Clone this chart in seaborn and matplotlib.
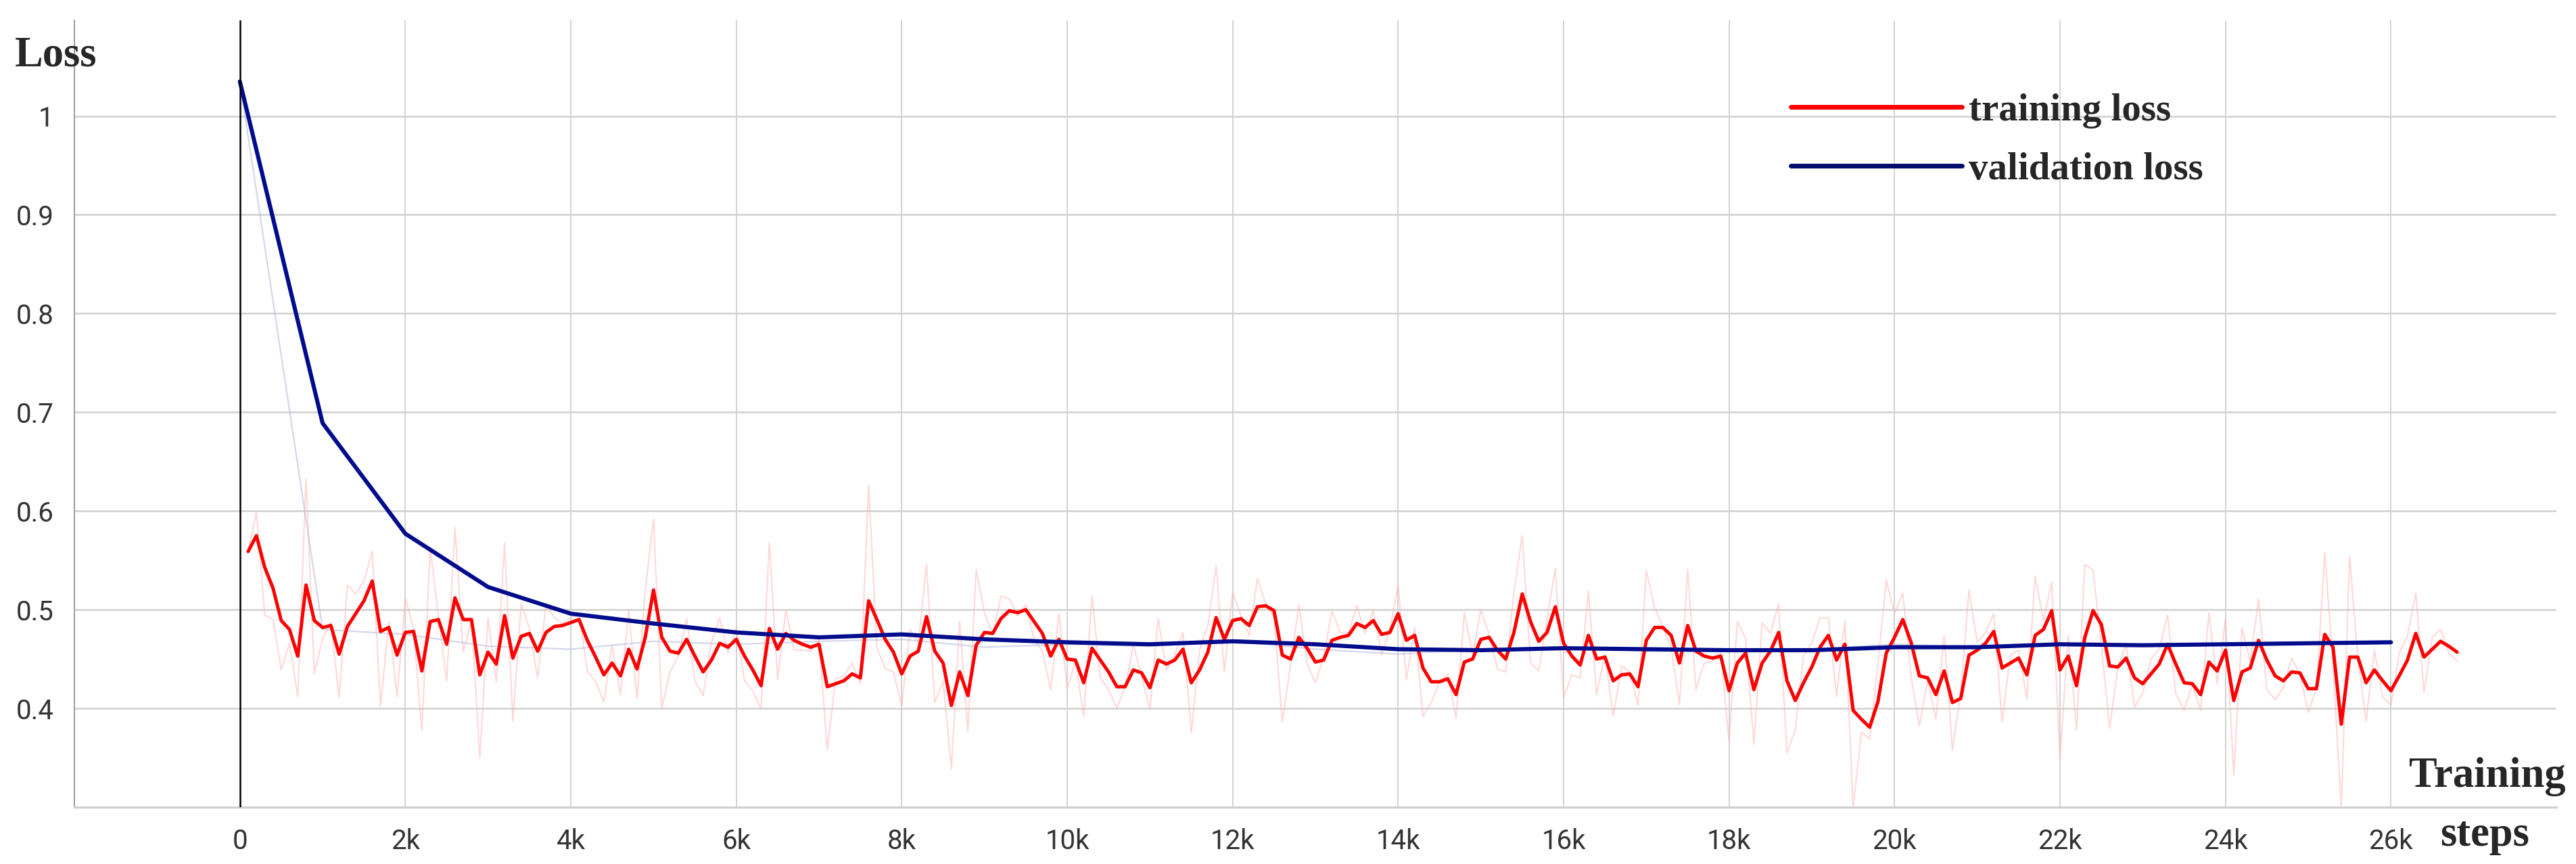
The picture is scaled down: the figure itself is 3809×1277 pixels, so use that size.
import numpy as np
import pandas as pd
import matplotlib
matplotlib.use("Agg")
import matplotlib.pyplot as plt
import seaborn as sns
from matplotlib.lines import Line2D

# ---------------- data ----------------
train_steps = list(range(100, 26801, 100))

train_smoothed = [
    0.559, 0.575, 0.543, 0.522, 0.489, 0.480, 0.453, 0.525, 0.489, 0.482,
    0.484, 0.455, 0.483, 0.496, 0.509, 0.529, 0.478, 0.482, 0.454, 0.477,
    0.478, 0.438, 0.488, 0.490, 0.465, 0.512, 0.490, 0.490, 0.434, 0.457,
    0.445, 0.494, 0.451, 0.473, 0.476, 0.458, 0.477, 0.483, 0.484, 0.487,
    0.490, 0.469, 0.452, 0.434, 0.446, 0.433, 0.460, 0.440, 0.472, 0.520,
    0.472, 0.458, 0.456, 0.470, 0.453, 0.437, 0.449, 0.466, 0.462, 0.470,
    0.453, 0.439, 0.423, 0.481, 0.460, 0.476, 0.469, 0.465, 0.462, 0.465,
    0.422, 0.425, 0.428, 0.435, 0.431, 0.509, 0.490, 0.470, 0.457, 0.435,
    0.453, 0.458, 0.493, 0.458, 0.446, 0.403, 0.437, 0.413, 0.464, 0.477,
    0.476, 0.491, 0.499, 0.497, 0.500, 0.488, 0.476, 0.453, 0.470, 0.450,
    0.449, 0.426, 0.461, 0.449, 0.437, 0.422, 0.422, 0.439, 0.436, 0.421,
    0.449, 0.445, 0.449, 0.460, 0.426, 0.439, 0.457, 0.492, 0.470, 0.489,
    0.491, 0.484, 0.503, 0.504, 0.499, 0.454, 0.450, 0.472, 0.461, 0.447,
    0.449, 0.469, 0.472, 0.474, 0.486, 0.482, 0.489, 0.475, 0.477, 0.496,
    0.469, 0.474, 0.441, 0.427, 0.427, 0.430, 0.414, 0.447, 0.450, 0.470,
    0.472, 0.459, 0.450, 0.477, 0.516, 0.488, 0.468, 0.477, 0.503, 0.466,
    0.453, 0.444, 0.474, 0.450, 0.452, 0.428, 0.434, 0.435, 0.422, 0.469,
    0.482, 0.482, 0.474, 0.446, 0.484, 0.458, 0.453, 0.451, 0.453, 0.418,
    0.446, 0.456, 0.419, 0.446, 0.458, 0.477, 0.428, 0.408, 0.426, 0.442,
    0.462, 0.474, 0.449, 0.465, 0.398, 0.389, 0.381, 0.407, 0.456, 0.472,
    0.490, 0.467, 0.433, 0.431, 0.414, 0.438, 0.406, 0.410, 0.454, 0.459,
    0.466, 0.478, 0.441, 0.446, 0.451, 0.434, 0.474, 0.480, 0.499, 0.439,
    0.453, 0.423, 0.472, 0.499, 0.485, 0.443, 0.442, 0.451, 0.431, 0.425,
    0.435, 0.445, 0.465, 0.445, 0.426, 0.425, 0.414, 0.447, 0.438, 0.459,
    0.408, 0.437, 0.441, 0.469, 0.449, 0.433, 0.428, 0.437, 0.436, 0.420,
    0.420, 0.475, 0.462, 0.384, 0.452, 0.452, 0.426, 0.439, 0.428, 0.418,
    0.433, 0.449, 0.476, 0.452, 0.460, 0.468, 0.463, 0.457,
]

train_raw = [
    0.559, 0.599, 0.495, 0.490, 0.439, 0.466, 0.412, 0.633, 0.435, 0.471,
    0.487, 0.411, 0.525, 0.516, 0.529, 0.559, 0.402, 0.488, 0.412, 0.512,
    0.480, 0.378, 0.563, 0.493, 0.428, 0.583, 0.457, 0.490, 0.350, 0.492,
    0.427, 0.568, 0.387, 0.506, 0.481, 0.431, 0.506, 0.492, 0.486, 0.492,
    0.495, 0.438, 0.427, 0.407, 0.464, 0.414, 0.500, 0.410, 0.520, 0.592,
    0.400, 0.437, 0.453, 0.491, 0.428, 0.413, 0.467, 0.492, 0.456, 0.482,
    0.428, 0.418, 0.399, 0.568, 0.429, 0.500, 0.459, 0.459, 0.458, 0.470,
    0.358, 0.430, 0.433, 0.446, 0.425, 0.626, 0.462, 0.440, 0.437, 0.402,
    0.480, 0.466, 0.546, 0.406, 0.428, 0.339, 0.488, 0.377, 0.541, 0.497,
    0.475, 0.514, 0.511, 0.494, 0.505, 0.470, 0.458, 0.419, 0.496, 0.420,
    0.448, 0.392, 0.514, 0.431, 0.419, 0.400, 0.422, 0.465, 0.432, 0.399,
    0.491, 0.439, 0.455, 0.477, 0.375, 0.459, 0.484, 0.545, 0.437, 0.518,
    0.494, 0.474, 0.532, 0.506, 0.492, 0.386, 0.444, 0.505, 0.445, 0.426,
    0.452, 0.499, 0.477, 0.477, 0.504, 0.476, 0.500, 0.454, 0.480, 0.525,
    0.429, 0.482, 0.392, 0.406, 0.427, 0.435, 0.390, 0.497, 0.455, 0.500,
    0.475, 0.440, 0.437, 0.518, 0.575, 0.446, 0.438, 0.491, 0.542, 0.411,
    0.434, 0.431, 0.519, 0.414, 0.455, 0.392, 0.443, 0.437, 0.403, 0.540,
    0.502, 0.482, 0.462, 0.404, 0.541, 0.419, 0.446, 0.448, 0.456, 0.366,
    0.488, 0.471, 0.364, 0.487, 0.476, 0.506, 0.355, 0.378, 0.453, 0.466,
    0.492, 0.492, 0.412, 0.489, 0.300, 0.376, 0.369, 0.446, 0.530, 0.496,
    0.517, 0.433, 0.382, 0.428, 0.389, 0.474, 0.358, 0.416, 0.520, 0.467,
    0.477, 0.496, 0.386, 0.454, 0.459, 0.409, 0.534, 0.489, 0.528, 0.349,
    0.474, 0.378, 0.546, 0.540, 0.464, 0.380, 0.441, 0.465, 0.401, 0.416,
    0.450, 0.460, 0.495, 0.415, 0.398, 0.424, 0.398, 0.497, 0.425, 0.491,
    0.332, 0.481, 0.447, 0.511, 0.419, 0.409, 0.421, 0.451, 0.435, 0.396,
    0.420, 0.558, 0.443, 0.300, 0.554, 0.452, 0.387, 0.459, 0.412, 0.403,
    0.456, 0.473, 0.517, 0.416, 0.472, 0.480, 0.456, 0.448,
]

val_steps = list(range(0, 26001, 1000))
val_smoothed = [1.035, 0.689, 0.577, 0.523, 0.496, 0.486, 0.477, 0.472, 0.475,
                0.470, 0.467, 0.465, 0.468, 0.465, 0.460, 0.459, 0.461, 0.460,
                0.459, 0.459, 0.462, 0.462, 0.465, 0.464, 0.465, 0.466, 0.467]
val_raw = [1.035, 0.480, 0.475, 0.463, 0.460, 0.468, 0.465, 0.468, 0.470,
           0.462, 0.465, 0.463, 0.468, 0.460, 0.455, 0.460, 0.462, 0.458,
           0.458, 0.460, 0.465, 0.462, 0.466, 0.463, 0.466, 0.467, 0.468]

x_ticks = list(range(0, 26001, 2000))
x_tick_labels = ["0"] + [f"{t // 1000}k" for t in x_ticks[1:]]
y_ticks = [0.4, 0.5, 0.6, 0.7, 0.8, 0.9, 1.0]
y_tick_labels = ["0.4", "0.5", "0.6", "0.7", "0.8", "0.9", "1"]

train_df = pd.DataFrame({"step": train_steps, "smoothed": train_smoothed, "raw": train_raw})
val_df = pd.DataFrame({"step": val_steps, "smoothed": val_smoothed, "raw": val_raw})

# ---------------- style ----------------
sns.set_style("white")
plt.rcParams["font.family"] = ["Roboto", "DejaVu Sans"]

W, H, DPI = 3809, 1277, 100
fig = plt.figure(figsize=(W / DPI, H / DPI), dpi=DPI)
ax = fig.add_axes([110 / W, 1 - 1193 / H, (3780 - 110) / W, (1193 - 30) / H])

grid_c = "#d2d2d2"
for t in x_ticks[1:]:
    ax.axvline(t, color=grid_c, lw=1.4, zorder=0)
for t in y_ticks:
    ax.axhline(t, color=grid_c, lw=1.9, zorder=0)

# raw (faint) curves
sns.lineplot(data=train_df, x="step", y="raw", ax=ax, color="#ffb3b3", alpha=0.5,
             linewidth=1.5, zorder=1, legend=False)
sns.lineplot(data=val_df, x="step", y="raw", ax=ax, color="#b8bde0", alpha=0.6,
             linewidth=1.6, zorder=1, legend=False)
# smoothed curves
sns.lineplot(data=train_df, x="step", y="smoothed", ax=ax, color="#ff0000",
             linewidth=3.6, zorder=3, legend=False)
sns.lineplot(data=val_df, x="step", y="smoothed", ax=ax, color="#000c8c",
             linewidth=4.4, zorder=4, legend=False)

ax.axvline(0, color="black", lw=1.8, zorder=5)

ax.set_xlim(-2000, 28000)
ax.set_ylim(0.3, 1.097)
ax.set_xticks(x_ticks)
ax.set_xticklabels(x_tick_labels)
ax.set_yticks(y_ticks)
ax.set_yticklabels(y_tick_labels)
ax.set_xlabel("")
ax.set_ylabel("")

for side in ["top", "right"]:
    ax.spines[side].set_visible(False)
ax.spines["left"].set_color("#9a9a9a")
ax.spines["left"].set_linewidth(1.4)
ax.spines["bottom"].set_color("#cfcfcf")
ax.spines["bottom"].set_linewidth(2.2)

ax.tick_params(axis="both", which="major", length=11, width=1.3, color="#bdbdbd",
               labelsize=29, labelcolor="#333333", direction="out")
ax.tick_params(axis="y", pad=11)
ax.tick_params(axis="x", pad=11)

serif = ["Liberation Serif", "DejaVu Serif"]
# titles
fig.text(22 / W, 1 - 97 / H, "Loss", fontsize=45, fontweight="bold",
         family=serif, va="baseline", ha="left")
fig.text(3678 / W, 1 - 1163 / H, "Training", fontsize=45, fontweight="bold",
         family=serif, va="baseline", ha="center")
fig.text(3674 / W, 1 - 1250 / H, "steps", fontsize=45, fontweight="bold",
         family=serif, va="baseline", ha="center")

handles = [Line2D([0], [0], color="#ff0000", lw=5),
           Line2D([0], [0], color="#000c6e", lw=5)]
leg = ax.legend(handles, ["training loss", "validation loss"],
                loc="upper left", bbox_to_anchor=(2648 / W, 1 - 138 / H),
                bbox_transform=fig.transFigure, frameon=False,
                prop={"family": serif, "weight": "bold", "size": 41},
                handlelength=4.45, handletextpad=0.17, labelspacing=0.62,
                borderpad=0, borderaxespad=0)

fig.savefig("out.png", dpi=DPI, facecolor="white")
